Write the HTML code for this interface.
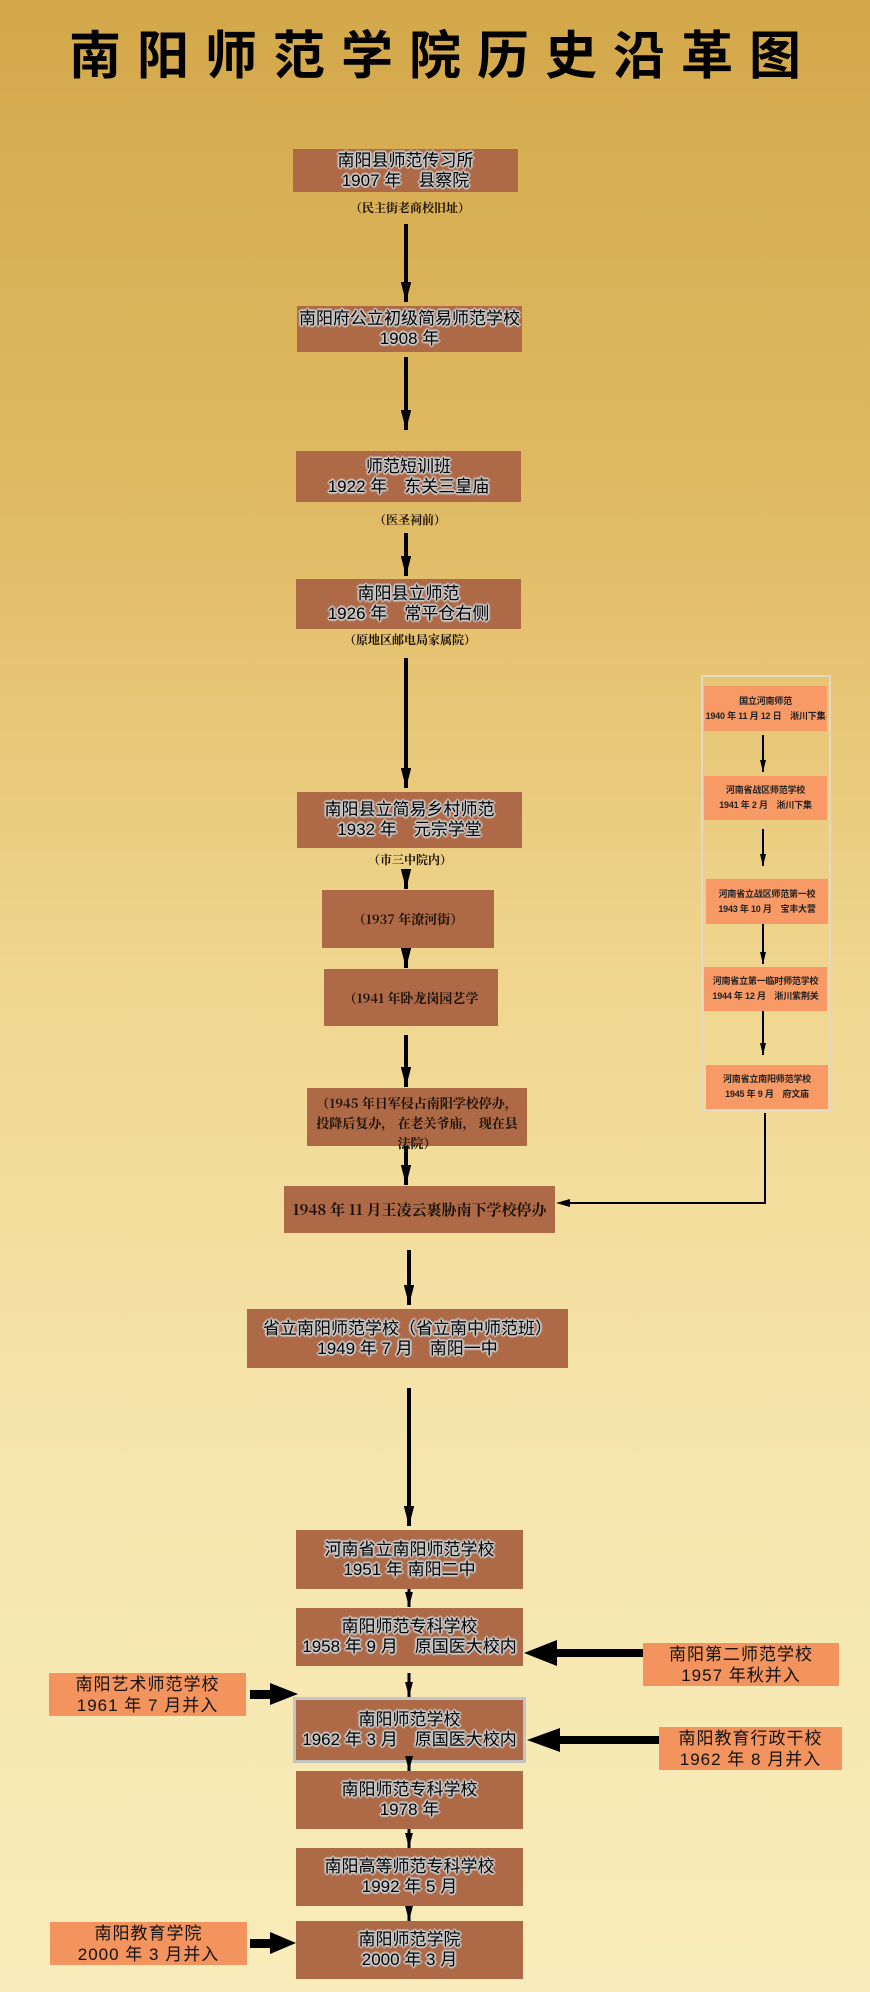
<!DOCTYPE html>
<html><head><meta charset="utf-8">
<style>
*{margin:0;padding:0;box-sizing:border-box}
body{width:870px;height:1992px;position:relative;overflow:hidden;
background:linear-gradient(180deg,#d3a84a 0%,#e0ba64 25%,#f0d790 50%,#f6e6ae 75%,#f8ecba 100%);
font-family:"Liberation Sans","Noto Sans CJK SC",sans-serif}
.t{position:absolute;left:0;width:870px;top:14px;text-align:center;font-size:52px;font-weight:bold;letter-spacing:16px;color:#000;font-family:"Noto Sans CJK SC",sans-serif;padding-left:16px}
.b{position:absolute;background:#ae6a47;display:flex;flex-direction:column;justify-content:center;align-items:center;text-align:center;
font-size:17px;line-height:20px;color:#000;
text-shadow:1px 1px 0 #c8c8c8,-1px -1px 0 #c8c8c8,1px -1px 0 #c8c8c8,-1px 1px 0 #c8c8c8,2px 0 1px #c8c8c8,-2px 0 1px #c8c8c8,0 2px 1px #c8c8c8,0 -2px 1px #c8c8c8}
.s{font-family:"Noto Serif CJK SC",serif;text-shadow:none;font-size:13px;font-weight:bold;color:#1a1008;line-height:20px}
.p{position:absolute;font-family:"Noto Serif CJK SC",serif;font-size:12px;font-weight:bold;color:#1a1008;text-align:center;width:300px}
.o{position:absolute;background:#f89a66;display:flex;flex-direction:column;justify-content:center;align-items:center;text-align:center;font-size:9px;line-height:15px;color:#222;font-weight:bold;white-space:nowrap;letter-spacing:-0.2px}
.L{position:absolute;background:#f3945f;display:flex;flex-direction:column;justify-content:center;align-items:center;font-size:17px;line-height:21px;color:#111;letter-spacing:1px}
</style></head><body>
<div class="t">南阳师范学院历史沿革图</div>

<div class="b" style="left:293px;top:149px;width:225px;height:43px"><div>南阳县师范传习所</div><div>1907 年　县察院</div></div>
<div class="p" style="left:260px;top:199px">（民主街老商校旧址）</div>
<div class="b" style="left:297px;top:306px;width:225px;height:46px"><div>南阳府公立初级简易师范学校</div><div>1908 年</div></div>
<div class="b" style="left:296px;top:451px;width:225px;height:51px"><div>师范短训班</div><div>1922 年　东关三皇庙</div></div>
<div class="p" style="left:260px;top:511px">（医圣祠前）</div>
<div class="b" style="left:296px;top:579px;width:225px;height:50px"><div>南阳县立师范</div><div>1926 年　常平仓右侧</div></div>
<div class="p" style="left:260px;top:631px">（原地区邮电局家属院）</div>
<div class="b" style="left:297px;top:792px;width:225px;height:56px"><div>南阳县立简易乡村师范</div><div>1932 年　元宗学堂</div></div>
<div class="p" style="left:260px;top:851px">（市三中院内）</div>
<div class="b s" style="left:322px;top:890px;width:172px;height:58px">（1937 年潦河街）</div>
<div class="b s" style="left:324px;top:969px;width:174px;height:57px">（1941 年卧龙岗园艺学</div>
<div class="b s" style="left:307px;top:1088px;width:220px;height:58px;justify-content:flex-start;padding-top:5px;overflow:visible"><div>（1945 年日军侵占南阳学校停办，</div><div>投降后复办， 在老关爷庙， 现在县</div><div>法院）</div></div>
<div class="b s" style="left:284px;top:1186px;width:271px;height:47px;font-size:15px">1948 年 11 月王凌云裹胁南下学校停办</div>
<div class="b" style="left:247px;top:1309px;width:321px;height:59px"><div>省立南阳师范学校（省立南中师范班）</div><div>1949 年 7 月　南阳一中</div></div>
<div class="b" style="left:296px;top:1530px;width:227px;height:59px"><div>河南省立南阳师范学校</div><div>1951 年  南阳二中</div></div>
<div class="b" style="left:296px;top:1608px;width:227px;height:58px"><div>南阳师范专科学校</div><div>1958 年 9 月　原国医大校内</div></div>
<div class="b" style="left:293px;top:1697px;width:233px;height:66px;border:3px solid #c4c4c4"><div>南阳师范学校</div><div>1962 年 3 月　原国医大校内</div></div>
<div class="b" style="left:296px;top:1771px;width:227px;height:58px"><div>南阳师范专科学校</div><div>1978 年</div></div>
<div class="b" style="left:296px;top:1848px;width:227px;height:58px"><div>南阳高等师范专科学校</div><div>1992 年 5 月</div></div>
<div class="b" style="left:296px;top:1921px;width:227px;height:58px"><div>南阳师范学院</div><div>2000 年 3 月</div></div>

<div class="L" style="left:643px;top:1643px;width:196px;height:43px"><div>南阳第二师范学校</div><div>1957 年秋并入</div></div>
<div class="L" style="left:49px;top:1673px;width:197px;height:43px"><div>南阳艺术师范学校</div><div>1961 年 7 月并入</div></div>
<div class="L" style="left:659px;top:1727px;width:183px;height:43px"><div>南阳教育行政干校</div><div>1962 年 8 月并入</div></div>
<div class="L" style="left:50px;top:1922px;width:197px;height:43px"><div>南阳教育学院</div><div>2000 年 3 月并入</div></div>

<div style="position:absolute;left:701px;top:675px;width:130px;height:436px;border:2px solid #e2d8c8"></div>
<div class="o" style="left:704px;top:686px;width:123px;height:45px"><div>国立河南师范</div><div>1940 年 11 月 12 日　淅川下集</div></div>
<div class="o" style="left:704px;top:776px;width:123px;height:44px"><div>河南省战区师范学校</div><div>1941 年 2 月　淅川下集</div></div>
<div class="o" style="left:706px;top:879px;width:122px;height:45px"><div>河南省立战区师范第一校</div><div>1943 年 10 月　宝丰大营</div></div>
<div class="o" style="left:704px;top:967px;width:123px;height:44px"><div>河南省立第一临时师范学校</div><div>1944 年 12 月　淅川紫荆关</div></div>
<div class="o" style="left:706px;top:1065px;width:122px;height:44px"><div>河南省立南阳师范学校</div><div>1945 年 9 月　府文庙</div></div>

<svg width="870" height="1992" style="position:absolute;left:0;top:0" xmlns="http://www.w3.org/2000/svg">
<defs>
<marker id="a" markerWidth="5" markerHeight="2.6" refX="5" refY="1.3" orient="auto" markerUnits="strokeWidth"><path d="M0,0 L5,1.3 L0,2.6 Z" fill="#000"/></marker>
<marker id="c" markerWidth="6" markerHeight="3" refX="6" refY="1.5" orient="auto" markerUnits="strokeWidth"><path d="M0,0 L6,1.5 L0,3 Z" fill="#000"/></marker>
</defs>
<g stroke="#000" stroke-width="4" fill="none" marker-end="url(#a)">
<line x1="406" y1="224" x2="406" y2="302"/>
<line x1="406" y1="357" x2="406" y2="430"/>
<line x1="406" y1="533" x2="406" y2="576"/>
<line x1="406" y1="658" x2="406" y2="788"/>
<line x1="406" y1="870" x2="406" y2="889"/>
<line x1="406" y1="948" x2="406" y2="968"/>
<line x1="406" y1="1035" x2="406" y2="1087"/>
<line x1="406" y1="1146" x2="406" y2="1185"/>
<line x1="409" y1="1250" x2="409" y2="1305"/>
<line x1="409" y1="1388" x2="409" y2="1526"/>
</g>
<g stroke="#000" stroke-width="3" fill="none" marker-end="url(#a)">
<line x1="409" y1="1589" x2="409" y2="1607"/>
<line x1="409" y1="1673" x2="409" y2="1697"/>
<line x1="409" y1="1763" x2="409" y2="1771"/>
<line x1="409" y1="1829" x2="409" y2="1848"/>
<line x1="409" y1="1906" x2="409" y2="1921"/>
</g>
<g stroke="#000" stroke-width="2" fill="none" marker-end="url(#c)">
<line x1="763" y1="735" x2="763" y2="772"/>
<line x1="763" y1="829" x2="763" y2="866"/>
<line x1="763" y1="924" x2="763" y2="964"/>
<line x1="763" y1="1011" x2="763" y2="1055"/>
</g>
<path d="M765,1113 L765,1203 L563,1203" stroke="#000" stroke-width="2" fill="none"/>
<path d="M556,1203 L570,1199 L570,1207 Z" fill="#000"/>
<rect x="556" y="1649" width="87" height="8" fill="#000"/>
<path d="M524,1653 L557,1640 L557,1666 Z" fill="#000"/>
<rect x="559" y="1736" width="100" height="8" fill="#000"/>
<path d="M527,1740 L560,1728 L560,1752 Z" fill="#000"/>
<rect x="250" y="1690" width="22" height="9" fill="#000"/>
<path d="M298,1694 L270,1683 L270,1705 Z" fill="#000"/>
<rect x="250" y="1939" width="22" height="9" fill="#000"/>
<path d="M296,1943 L270,1932 L270,1954 Z" fill="#000"/>
</svg>
</body></html>
